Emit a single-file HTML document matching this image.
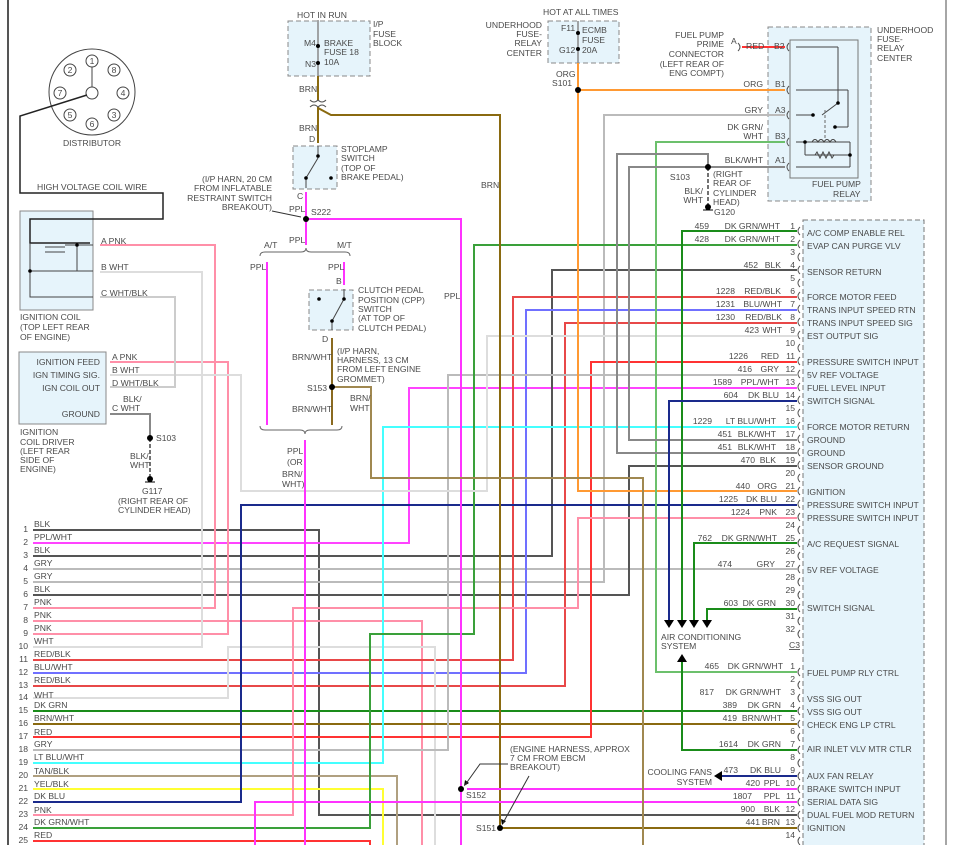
<!DOCTYPE html>
<html><head><meta charset="utf-8"><style>
html,body{margin:0;padding:0;background:#fff;}
svg{display:block;}
text{font-family:"Liberation Sans",sans-serif;font-size:8.6px;fill:#4a4a4a;}
.e{text-anchor:end;}
.m{text-anchor:middle;}
polyline,line,path{fill:none;}
</style></head><body>
<svg width="959" height="845" viewBox="0 0 959 845" xmlns="http://www.w3.org/2000/svg">
<rect width="959" height="845" fill="#fff"/>
<line x1="8" y1="0" x2="8" y2="845" stroke="#555" stroke-width="2"/>
<line x1="946" y1="0" x2="946" y2="845" stroke="#888" stroke-width="1.5"/>

<rect x="288" y="21" width="82" height="55" fill="#e6f4fb" stroke="#888" stroke-dasharray="5,3"/>
<rect x="548" y="21" width="71" height="42" fill="#e6f4fb" stroke="#888" stroke-dasharray="5,3"/>
<rect x="768" y="27" width="103" height="174" fill="#e6f4fb" stroke="#888" stroke-dasharray="5,3"/>
<rect x="790" y="40" width="68" height="138" fill="none" stroke="#777"/>
<rect x="293" y="146" width="44" height="43" fill="#e6f4fb" stroke="#888" stroke-dasharray="5,3"/>
<rect x="309" y="290" width="44" height="40" fill="#e6f4fb" stroke="#888" stroke-dasharray="5,3"/>
<rect x="20" y="211" width="73" height="99" fill="#e6f4fb" stroke="#888"/>
<rect x="19" y="352" width="87" height="72" fill="#e6f4fb" stroke="#888"/>
<rect x="803" y="220" width="121" height="640" fill="#e6f4fb" stroke="#777" stroke-dasharray="5,3"/>

<g stroke="#444" fill="none">
<circle cx="92" cy="92" r="43"/>
<circle cx="92" cy="93" r="6"/>
<line x1="92" y1="87" x2="92" y2="67"/>
<circle cx="92" cy="61" r="6"/><circle cx="114" cy="70" r="6"/><circle cx="123" cy="93" r="6"/><circle cx="114" cy="115" r="6"/>
<circle cx="92" cy="124" r="6"/><circle cx="70" cy="115" r="6"/><circle cx="60" cy="93" r="6"/><circle cx="70" cy="70" r="6"/>
</g>
<g style="font-size:7px" class="m">
<text x="92" y="64" class="m">1</text><text x="114" y="73" class="m">8</text><text x="123" y="96" class="m">4</text><text x="114" y="118" class="m">3</text>
<text x="92" y="127" class="m">6</text><text x="70" y="118" class="m">5</text><text x="60" y="96" class="m">7</text><text x="70" y="73" class="m">2</text>
</g>
<polyline points="87,95 20,116 20,193 163,193 163,219 30,219 30,243 90,243" stroke="#222" stroke-width="1.5"/>
<g stroke="#444" stroke-width="1">
<polyline points="30,243 30,271 93,271"/><polyline points="30,271 30,297 93,297"/>
<line x1="45" y1="247" x2="65" y2="247"/><line x1="45" y1="252" x2="65" y2="252"/>
<line x1="77" y1="245" x2="77" y2="271"/><line x1="65" y1="245" x2="93" y2="245"/>
</g>
<circle cx="77" cy="245" r="1.8" fill="#000"/><circle cx="30" cy="271" r="1.8" fill="#000"/>

<g stroke-width="2" fill="none">
<polyline stroke="#555" points="33,530 319,530 319,815 797,815"/>
<polyline stroke="#ff44ff" points="33,543 409,543 409,388 797,388"/>
<polyline stroke="#555" points="33,556 552,556 552,270 797,270"/>
<polyline stroke="#bbb" points="33,569 797,569"/>
<polyline stroke="#bbb" points="33,582 604,582 604,115 785,115"/>
<polyline stroke="#555" points="33,595 629,595 629,466 797,466"/>
<polyline stroke="#ff8fa8" points="33,608 215,608 215,245 100,245"/>
<polyline stroke="#ff8fa8" points="33,621 422,621 422,845"/>
<polyline stroke="#ff8fa8" points="33,634 228,634 228,362 110,362"/>
<polyline stroke="#ddd" points="33,647 202,647 202,272 100,272"/>
<polyline stroke="#e84848" points="33,660 513,660 513,297 797,297"/>
<polyline stroke="#7070ff" points="33,673 526,673 526,310 797,310"/>
<polyline stroke="#e84848" points="33,686 565,686 565,323 797,323"/>
<polyline stroke="#ddd" points="33,698 228,698 228,647 435,647 435,845"/>
<polyline stroke="#1a8c1a" points="33,711 797,711"/>
<polyline stroke="#8a6a10" points="33,724 797,724"/>
<polyline stroke="#ff3333" points="33,737 591,737 591,362 797,362"/>
<polyline stroke="#bbb" points="33,750 448,750 448,375 797,375"/>
<polyline stroke="#44ffff" points="33,763 383,763 383,427 797,427"/>
<polyline stroke="#b0a080" points="33,776 397,776 397,845"/>
<polyline stroke="#ffff33" points="33,789 383,789 383,845"/>
<polyline stroke="#1a2a8c" points="33,802 241,802 241,505 797,505"/>
<polyline stroke="#ff8fa8" points="33,815 293,815 293,608 578,608 578,518 797,518"/>
<polyline stroke="#3aa03a" points="33,828 370,828 370,634 474,634 474,245 797,245"/>
<polyline stroke="#ff3333" points="33,841 370,841 370,845"/>
<polyline stroke="#ddd" points="110,375 241,375 241,491 487,491 487,336 797,336"/>
<polyline stroke="#ccc" points="100,297 175,297 175,387 110,387"/>
<polyline stroke="#888" points="110,414 150,414 150,438"/>
<polyline stroke="#888" stroke-width="1.5" points="318,20 318,76"/>
<polyline stroke="#8a6a10" points="318,76 318,100"/>
<polyline stroke="#8a6a10" points="318,107 318,143"/>
<polyline stroke="#8a6a10" points="318,108 331,115 500,115 500,828 797,828"/>
<polyline stroke="#888" stroke-width="1.5" points="578,21 578,63"/>
<polyline stroke="#ff9933" points="578,63 578,491 797,491"/>
<polyline stroke="#ff9933" points="578,90 785,90"/>
<polyline stroke="#ff3333" points="742,47 785,47"/>
<polyline stroke="#6cc06c" points="785,142 656,142 656,672 797,672"/>
<polyline stroke="#888" points="797,440 629,440 629,167 785,167"/>
<polyline stroke="#888" points="797,453 617,453 617,154 708,154 708,167"/>
<polyline stroke="#1a8c1a" points="797,231 682,231 682,620"/>
<polyline stroke="#1a2a8c" points="797,401 669,401 669,620"/>
<polyline stroke="#1a8c1a" points="797,543 694,543 694,620"/>
<polyline stroke="#1a8c1a" points="797,609 707,609 707,620"/>
<polyline stroke="#1a8c1a" points="797,750 682,750 682,662"/>
<polyline stroke="#1a2a8c" points="797,776 722,776"/>
<polyline stroke="#ff33ff" points="306,192 306,245"/>
<polyline stroke="#ff33ff" points="306,219 461,219 461,845"/>
<polyline stroke="#ff33ff" points="467,789 797,789"/>
<polyline stroke="#ff33ff" points="255,845 255,802 797,802"/>
<polyline stroke="#ff33ff" points="267,262 267,425"/>
<polyline stroke="#ff33ff" points="344,262 344,285"/>
<polyline stroke="#ff33ff" points="305,440 305,845"/>
<polyline stroke="#8a6a20" points="332,338 332,425"/>
<polyline stroke="#a08850" points="332,387 371,387 371,478 643,478 643,845"/>
</g>
<line x1="708" y1="167" x2="708" y2="205" stroke="#444" stroke-width="1.5" stroke-dasharray="4,2"/>
<line x1="150" y1="438" x2="150" y2="478" stroke="#444" stroke-width="1.5" stroke-dasharray="4,2"/>
<path d="M260,256 Q260,252 265,252 L301,252 Q306,252 306,248 Q306,252 311,252 L345,252 Q350,252 350,256" stroke="#666"/>
<path d="M260,426 Q260,430 265,430 L300,430 Q305,430 305,434 Q305,430 310,430 L337,430 Q342,430 342,426" stroke="#666"/>
<g stroke="#444">
<line x1="318" y1="158" x2="306" y2="178"/><line x1="318" y1="146" x2="318" y2="158"/><line x1="306" y1="178" x2="306" y2="188"/>
<line x1="332" y1="321" x2="344" y2="299"/><line x1="344" y1="289" x2="344" y2="299"/><line x1="332" y1="321" x2="332" y2="330"/>
<line x1="796" y1="47" x2="838" y2="47"/><line x1="838" y1="47" x2="838" y2="103"/><line x1="838" y1="103" x2="822" y2="115"/>
<line x1="796" y1="90" x2="848" y2="90"/><line x1="848" y1="90" x2="848" y2="127"/><line x1="848" y1="127" x2="835" y2="127"/>
<line x1="796" y1="115" x2="813" y2="115"/>
<line x1="796" y1="142" x2="850" y2="142"/><line x1="850" y1="142" x2="850" y2="155"/>
<line x1="805" y1="142" x2="805" y2="155"/><line x1="805" y1="155" x2="850" y2="155"/>
<line x1="796" y1="167" x2="850" y2="167"/><line x1="850" y1="155" x2="850" y2="167"/>
</g>
<path d="M812,142 q3,-5 6,0 q3,-5 6,0 q3,-5 6,0 q3,-5 6,0" stroke="#444"/>
<path d="M815,155 l2,-3 l3,6 l3,-6 l3,6 l3,-6 l3,6 l2,-3" stroke="#444"/>
<line x1="825" y1="110" x2="825" y2="138" stroke="#666" stroke-dasharray="3,2"/>
<g fill="#000">
<circle cx="318" cy="46" r="2"/><circle cx="318" cy="63" r="2"/>
<circle cx="578" cy="33" r="2"/><circle cx="578" cy="49" r="2"/>
<circle cx="578" cy="90" r="3"/><circle cx="708" cy="167" r="3"/><circle cx="708" cy="207" r="3"/>
<circle cx="306" cy="219" r="3"/><circle cx="332" cy="387" r="3"/><circle cx="150" cy="438" r="3"/><circle cx="150" cy="479" r="3"/>
<circle cx="461" cy="789" r="3"/><circle cx="500" cy="828" r="3"/>
<circle cx="318" cy="156" r="1.8"/><circle cx="306" cy="178" r="1.8"/><circle cx="331" cy="178" r="1.8"/>
<circle cx="344" cy="299" r="1.8"/><circle cx="332" cy="321" r="1.8"/><circle cx="319" cy="299" r="1.8"/>
<circle cx="838" cy="103" r="1.8"/><circle cx="813" cy="115" r="1.8"/><circle cx="835" cy="127" r="1.8"/><circle cx="805" cy="142" r="1.8"/><circle cx="850" cy="155" r="1.8"/>
<polygon points="664,620 674,620 669,628"/><polygon points="677,620 687,620 682,628"/><polygon points="689,620 699,620 694,628"/><polygon points="702,620 712,620 707,628"/>
<polygon points="677,662 687,662 682,654"/><polygon points="722,771 722,781 714,776"/>
<polygon points="464,786 465,780 469,783"/><polygon points="502,825 501,819 506,821"/>
</g>
<line x1="703" y1="210" x2="713" y2="210" stroke="#000"/><line x1="145" y1="482" x2="155" y2="482" stroke="#000"/>
<g stroke="#333"><polyline points="508,764 480,764 465,785"/><line x1="529" y1="776" x2="503" y2="823"/><line x1="272" y1="211" x2="301" y2="217"/></g>

<g stroke="#555" stroke-width="1">
<path d="M800,227 q-4,4 0,8 M800,240 q-4,4 0,8 M800,253 q-4,4 0,8 M800,266 q-4,4 0,8 M800,279 q-4,4 0,8 M800,292 q-4,4 0,8 M800,305 q-4,4 0,8 M800,318 q-4,4 0,8 M800,331 q-4,4 0,8 M800,344 q-4,4 0,8 M800,357 q-4,4 0,8 M800,370 q-4,4 0,8 M800,383 q-4,4 0,8 M800,396 q-4,4 0,8 M800,409 q-4,4 0,8 M800,422 q-4,4 0,8 M800,435 q-4,4 0,8 M800,448 q-4,4 0,8 M800,461 q-4,4 0,8 M800,474 q-4,4 0,8 M800,487 q-4,4 0,8 M800,500 q-4,4 0,8 M800,513 q-4,4 0,8 M800,526 q-4,4 0,8 M800,539 q-4,4 0,8 M800,552 q-4,4 0,8 M800,565 q-4,4 0,8 M800,578 q-4,4 0,8 M800,591 q-4,4 0,8 M800,604 q-4,4 0,8 M800,617 q-4,4 0,8 M800,630 q-4,4 0,8"/>
<path d="M800,668 q-4,4 0,8 M800,681 q-4,4 0,8 M800,694 q-4,4 0,8 M800,707 q-4,4 0,8 M800,720 q-4,4 0,8 M800,733 q-4,4 0,8 M800,746 q-4,4 0,8 M800,759 q-4,4 0,8 M800,772 q-4,4 0,8 M800,785 q-4,4 0,8 M800,798 q-4,4 0,8 M800,811 q-4,4 0,8 M800,824 q-4,4 0,8 M800,837 q-4,4 0,8"/>
<path d="M789,43 q-4,4 0,8 M789,86 q-4,4 0,8 M789,111 q-4,4 0,8 M789,138 q-4,4 0,8 M789,163 q-4,4 0,8"/>
<path d="M738,43 q4,4 0,8 M318,100 q-4,4 -8,0 M318,100 q4,4 8,0 M318,107 q-4,-4 -8,0 M318,107 q4,-4 8,0"/>
</g>

<text x="92" y="146" class="m">DISTRIBUTOR</text>
<text x="37" y="190">HIGH VOLTAGE COIL WIRE</text>
<text x="101" y="244">A  PNK</text><text x="101" y="270">B  WHT</text><text x="101" y="296">C  WHT/BLK</text>
<text x="20" y="320">IGNITION COIL</text><text x="20" y="330">(TOP LEFT REAR</text><text x="20" y="340">OF ENGINE)</text>
<text x="100" y="365" class="e">IGNITION FEED</text><text x="100" y="378" class="e">IGN TIMING SIG.</text><text x="100" y="391" class="e">IGN COIL OUT</text><text x="100" y="417" class="e">GROUND</text>
<text x="112" y="360">A  PNK</text><text x="112" y="373">B  WHT</text><text x="112" y="386">D  WHT/BLK</text><text x="123" y="402">BLK/</text><text x="112" y="411">C  WHT</text>
<text x="20" y="435">IGNITION</text><text x="20" y="445">COIL DRIVER</text><text x="20" y="454">(LEFT REAR</text><text x="20" y="463">SIDE OF</text><text x="20" y="472">ENGINE)</text>
<text x="156" y="441">S103</text><text x="130" y="459">BLK/</text><text x="130" y="468">WHT</text>
<text x="142" y="494">G117</text><text x="118" y="504">(RIGHT REAR OF</text><text x="118" y="513">CYLINDER HEAD)</text>

<text x="297" y="18">HOT IN RUN</text>
<text x="373" y="27">I/P</text><text x="373" y="37">FUSE</text><text x="373" y="46">BLOCK</text>
<text x="304" y="46">M4</text><text x="324" y="46">BRAKE</text><text x="324" y="55">FUSE 18</text><text x="305" y="67">N3</text><text x="324" y="65">10A</text>
<text x="299" y="92">BRN</text><text x="299" y="131">BRN</text><text x="309" y="142">D</text>
<text x="341" y="152">STOPLAMP</text><text x="341" y="161">SWITCH</text><text x="341" y="171">(TOP OF</text><text x="341" y="180">BRAKE PEDAL)</text>
<text x="297" y="199">C</text>
<text x="272" y="182" class="e">(I/P HARN, 20 CM</text><text x="272" y="191" class="e">FROM INFLATABLE</text><text x="272" y="201" class="e">RESTRAINT SWITCH</text><text x="272" y="210" class="e">BREAKOUT)</text>
<text x="289" y="212">PPL</text><text x="311" y="215">S222</text><text x="289" y="243">PPL</text>
<text x="264" y="248">A/T</text><text x="337" y="248">M/T</text>
<text x="250" y="270">PPL</text><text x="328" y="270">PPL</text><text x="336" y="284">B</text>
<text x="358" y="293">CLUTCH PEDAL</text><text x="358" y="303">POSITION (CPP)</text><text x="358" y="312">SWITCH</text><text x="358" y="321">(AT TOP OF</text><text x="358" y="331">CLUTCH PEDAL)</text>
<text x="322" y="342">D</text>
<text x="292" y="360">BRN/WHT</text><text x="337" y="354">(I/P HARN,</text><text x="337" y="363">HARNESS, 13 CM</text><text x="337" y="372">FROM LEFT ENGINE</text><text x="337" y="382">GROMMET)</text>
<text x="307" y="391">S153</text><text x="292" y="412">BRN/WHT</text><text x="350" y="401">BRN/</text><text x="350" y="411">WHT</text>
<text x="287" y="454">PPL</text><text x="287" y="465">(OR</text><text x="282" y="477">BRN/</text><text x="282" y="487">WHT)</text>
<text x="444" y="299">PPL</text><text x="481" y="188">BRN</text>
<text x="543" y="15">HOT AT ALL TIMES</text>
<text x="542" y="28" class="e">UNDERHOOD</text><text x="542" y="37" class="e">FUSE-</text><text x="542" y="46" class="e">RELAY</text><text x="542" y="56" class="e">CENTER</text>
<text x="561" y="31">F11</text><text x="582" y="33">ECMB</text><text x="582" y="43">FUSE</text><text x="582" y="53">20A</text><text x="559" y="53">G12</text>
<text x="556" y="77">ORG</text><text x="552" y="86">S101</text>
<text x="724" y="38" class="e">FUEL PUMP</text><text x="724" y="47" class="e">PRIME</text><text x="724" y="57" class="e">CONNECTOR</text><text x="724" y="67" class="e">(LEFT REAR OF</text><text x="724" y="76" class="e">ENG COMPT)</text>
<text x="731" y="44">A</text><text x="746" y="49">RED</text><text x="774" y="49">B2</text>
<text x="763" y="87" class="e">ORG</text><text x="775" y="87">B1</text>
<text x="763" y="113" class="e">GRY</text><text x="775" y="113">A3</text>
<text x="763" y="130" class="e">DK GRN/</text><text x="763" y="139" class="e">WHT</text><text x="775" y="139">B3</text>
<text x="763" y="163" class="e">BLK/WHT</text><text x="775" y="163">A1</text>
<text x="690" y="180" class="e">S103</text><text x="713" y="177">(RIGHT</text><text x="713" y="186">REAR OF</text><text x="713" y="196">CYLINDER</text><text x="713" y="205">HEAD)</text>
<text x="703" y="194" class="e">BLK/</text><text x="703" y="203" class="e">WHT</text><text x="714" y="215">G120</text>
<text x="877" y="33">UNDERHOOD</text><text x="877" y="42">FUSE-</text><text x="877" y="51">RELAY</text><text x="877" y="61">CENTER</text>
<text x="812" y="187">FUEL PUMP</text><text x="833" y="197">RELAY</text>
<text x="510" y="752">(ENGINE HARNESS, APPROX</text><text x="510" y="761">7 CM FROM EBCM</text><text x="510" y="770">BREAKOUT)</text>
<text x="466" y="798">S152</text><text x="476" y="831">S151</text>
<text x="661" y="640">AIR CONDITIONING</text><text x="661" y="649">SYSTEM</text>
<text x="789" y="648" style="text-decoration:underline">C3</text>
<text x="712" y="775" class="e">COOLING FANS</text><text x="712" y="785" class="e">SYSTEM</text>

<g>
<text x="28" y="532" class="e">1</text><text x="34" y="527">BLK</text>
<text x="28" y="545" class="e">2</text><text x="34" y="540">PPL/WHT</text>
<text x="28" y="558" class="e">3</text><text x="34" y="553">BLK</text>
<text x="28" y="571" class="e">4</text><text x="34" y="566">GRY</text>
<text x="28" y="584" class="e">5</text><text x="34" y="579">GRY</text>
<text x="28" y="597" class="e">6</text><text x="34" y="592">BLK</text>
<text x="28" y="610" class="e">7</text><text x="34" y="605">PNK</text>
<text x="28" y="623" class="e">8</text><text x="34" y="618">PNK</text>
<text x="28" y="636" class="e">9</text><text x="34" y="631">PNK</text>
<text x="28" y="649" class="e">10</text><text x="34" y="644">WHT</text>
<text x="28" y="662" class="e">11</text><text x="34" y="657">RED/BLK</text>
<text x="28" y="675" class="e">12</text><text x="34" y="670">BLU/WHT</text>
<text x="28" y="688" class="e">13</text><text x="34" y="683">RED/BLK</text>
<text x="28" y="700" class="e">14</text><text x="34" y="698">WHT</text>
<text x="28" y="713" class="e">15</text><text x="34" y="708">DK GRN</text>
<text x="28" y="726" class="e">16</text><text x="34" y="721">BRN/WHT</text>
<text x="28" y="739" class="e">17</text><text x="34" y="735">RED</text>
<text x="28" y="752" class="e">18</text><text x="34" y="747">GRY</text>
<text x="28" y="765" class="e">19</text><text x="34" y="760">LT BLU/WHT</text>
<text x="28" y="778" class="e">20</text><text x="34" y="774">TAN/BLK</text>
<text x="28" y="791" class="e">21</text><text x="34" y="787">YEL/BLK</text>
<text x="28" y="804" class="e">22</text><text x="34" y="799">DK BLU</text>
<text x="28" y="817" class="e">23</text><text x="34" y="813">PNK</text>
<text x="28" y="830" class="e">24</text><text x="34" y="825">DK GRN/WHT</text>
<text x="28" y="843" class="e">25</text><text x="34" y="838">RED</text>
</g>

<g>
<text x="795" y="229" class="e">1</text><text x="780" y="229" class="e">DK GRN/WHT</text><text x="709" y="229" class="e">459</text><text x="807" y="236">A/C COMP ENABLE REL</text>
<text x="795" y="242" class="e">2</text><text x="780" y="242" class="e">DK GRN/WHT</text><text x="709" y="242" class="e">428</text><text x="807" y="249">EVAP CAN PURGE VLV</text>
<text x="795" y="255" class="e">3</text>
<text x="795" y="268" class="e">4</text><text x="781" y="268" class="e">BLK</text><text x="758" y="268" class="e">452</text><text x="807" y="275">SENSOR RETURN</text>
<text x="795" y="281" class="e">5</text>
<text x="795" y="294" class="e">6</text><text x="781" y="294" class="e">RED/BLK</text><text x="735" y="294" class="e">1228</text><text x="807" y="300">FORCE MOTOR FEED</text>
<text x="795" y="307" class="e">7</text><text x="782" y="307" class="e">BLU/WHT</text><text x="735" y="307" class="e">1231</text><text x="807" y="313">TRANS INPUT SPEED RTN</text>
<text x="795" y="320" class="e">8</text><text x="782" y="320" class="e">RED/BLK</text><text x="735" y="320" class="e">1230</text><text x="807" y="326">TRANS INPUT SPEED SIG</text>
<text x="795" y="333" class="e">9</text><text x="782" y="333" class="e">WHT</text><text x="759" y="333" class="e">423</text><text x="807" y="339">EST OUTPUT SIG</text>
<text x="795" y="346" class="e">10</text>
<text x="795" y="359" class="e">11</text><text x="779" y="359" class="e">RED</text><text x="748" y="359" class="e">1226</text><text x="807" y="365">PRESSURE SWITCH INPUT</text>
<text x="795" y="372" class="e">12</text><text x="779" y="372" class="e">GRY</text><text x="752" y="372" class="e">416</text><text x="807" y="378">5V REF VOLTAGE</text>
<text x="795" y="385" class="e">13</text><text x="779" y="385" class="e">PPL/WHT</text><text x="732" y="385" class="e">1589</text><text x="807" y="391">FUEL LEVEL INPUT</text>
<text x="795" y="398" class="e">14</text><text x="779" y="398" class="e">DK BLU</text><text x="738" y="398" class="e">604</text><text x="807" y="404">SWITCH SIGNAL</text>
<text x="795" y="411" class="e">15</text>
<text x="795" y="424" class="e">16</text><text x="776" y="424" class="e">LT BLU/WHT</text><text x="712" y="424" class="e">1229</text><text x="807" y="430">FORCE MOTOR RETURN</text>
<text x="795" y="437" class="e">17</text><text x="776" y="437" class="e">BLK/WHT</text><text x="732" y="437" class="e">451</text><text x="807" y="443">GROUND</text>
<text x="795" y="450" class="e">18</text><text x="776" y="450" class="e">BLK/WHT</text><text x="732" y="450" class="e">451</text><text x="807" y="456">GROUND</text>
<text x="795" y="463" class="e">19</text><text x="776" y="463" class="e">BLK</text><text x="755" y="463" class="e">470</text><text x="807" y="469">SENSOR GROUND</text>
<text x="795" y="476" class="e">20</text>
<text x="795" y="489" class="e">21</text><text x="777" y="489" class="e">ORG</text><text x="750" y="489" class="e">440</text><text x="807" y="495">IGNITION</text>
<text x="795" y="502" class="e">22</text><text x="777" y="502" class="e">DK BLU</text><text x="738" y="502" class="e">1225</text><text x="807" y="508">PRESSURE SWITCH INPUT</text>
<text x="795" y="515" class="e">23</text><text x="777" y="515" class="e">PNK</text><text x="750" y="515" class="e">1224</text><text x="807" y="521">PRESSURE SWITCH INPUT</text>
<text x="795" y="528" class="e">24</text>
<text x="795" y="541" class="e">25</text><text x="777" y="541" class="e">DK GRN/WHT</text><text x="712" y="541" class="e">762</text><text x="807" y="547">A/C REQUEST SIGNAL</text>
<text x="795" y="554" class="e">26</text>
<text x="795" y="567" class="e">27</text><text x="775" y="567" class="e">GRY</text><text x="732" y="567" class="e">474</text><text x="807" y="573">5V REF VOLTAGE</text>
<text x="795" y="580" class="e">28</text>
<text x="795" y="593" class="e">29</text>
<text x="795" y="606" class="e">30</text><text x="776" y="606" class="e">DK GRN</text><text x="738" y="606" class="e">603</text><text x="807" y="611">SWITCH SIGNAL</text>
<text x="795" y="619" class="e">31</text>
<text x="795" y="632" class="e">32</text>
<text x="795" y="669" class="e">1</text><text x="783" y="669" class="e">DK GRN/WHT</text><text x="719" y="669" class="e">465</text><text x="807" y="676">FUEL PUMP RLY CTRL</text>
<text x="795" y="682" class="e">2</text>
<text x="795" y="695" class="e">3</text><text x="781" y="695" class="e">DK GRN/WHT</text><text x="714" y="695" class="e">817</text><text x="807" y="702">VSS SIG OUT</text>
<text x="795" y="708" class="e">4</text><text x="781" y="708" class="e">DK GRN</text><text x="737" y="708" class="e">389</text><text x="807" y="715">VSS SIG OUT</text>
<text x="795" y="721" class="e">5</text><text x="782" y="721" class="e">BRN/WHT</text><text x="737" y="721" class="e">419</text><text x="807" y="728">CHECK ENG LP CTRL</text>
<text x="795" y="734" class="e">6</text>
<text x="795" y="747" class="e">7</text><text x="781" y="747" class="e">DK GRN</text><text x="738" y="747" class="e">1614</text><text x="807" y="752">AIR INLET VLV MTR CTLR</text>
<text x="795" y="760" class="e">8</text>
<text x="795" y="773" class="e">9</text><text x="781" y="773" class="e">DK BLU</text><text x="738" y="773" class="e">473</text><text x="807" y="779">AUX FAN RELAY</text>
<text x="795" y="786" class="e">10</text><text x="780" y="786" class="e">PPL</text><text x="760" y="786" class="e">420</text><text x="807" y="792">BRAKE SWITCH INPUT</text>
<text x="795" y="799" class="e">11</text><text x="780" y="799" class="e">PPL</text><text x="752" y="799" class="e">1807</text><text x="807" y="805">SERIAL DATA SIG</text>
<text x="795" y="812" class="e">12</text><text x="780" y="812" class="e">BLK</text><text x="755" y="812" class="e">900</text><text x="807" y="818">DUAL FUEL MOD RETURN</text>
<text x="795" y="825" class="e">13</text><text x="780" y="825" class="e">BRN</text><text x="760" y="825" class="e">441</text><text x="807" y="831">IGNITION</text>
<text x="795" y="838" class="e">14</text>
</g>
</svg>
</body></html>
